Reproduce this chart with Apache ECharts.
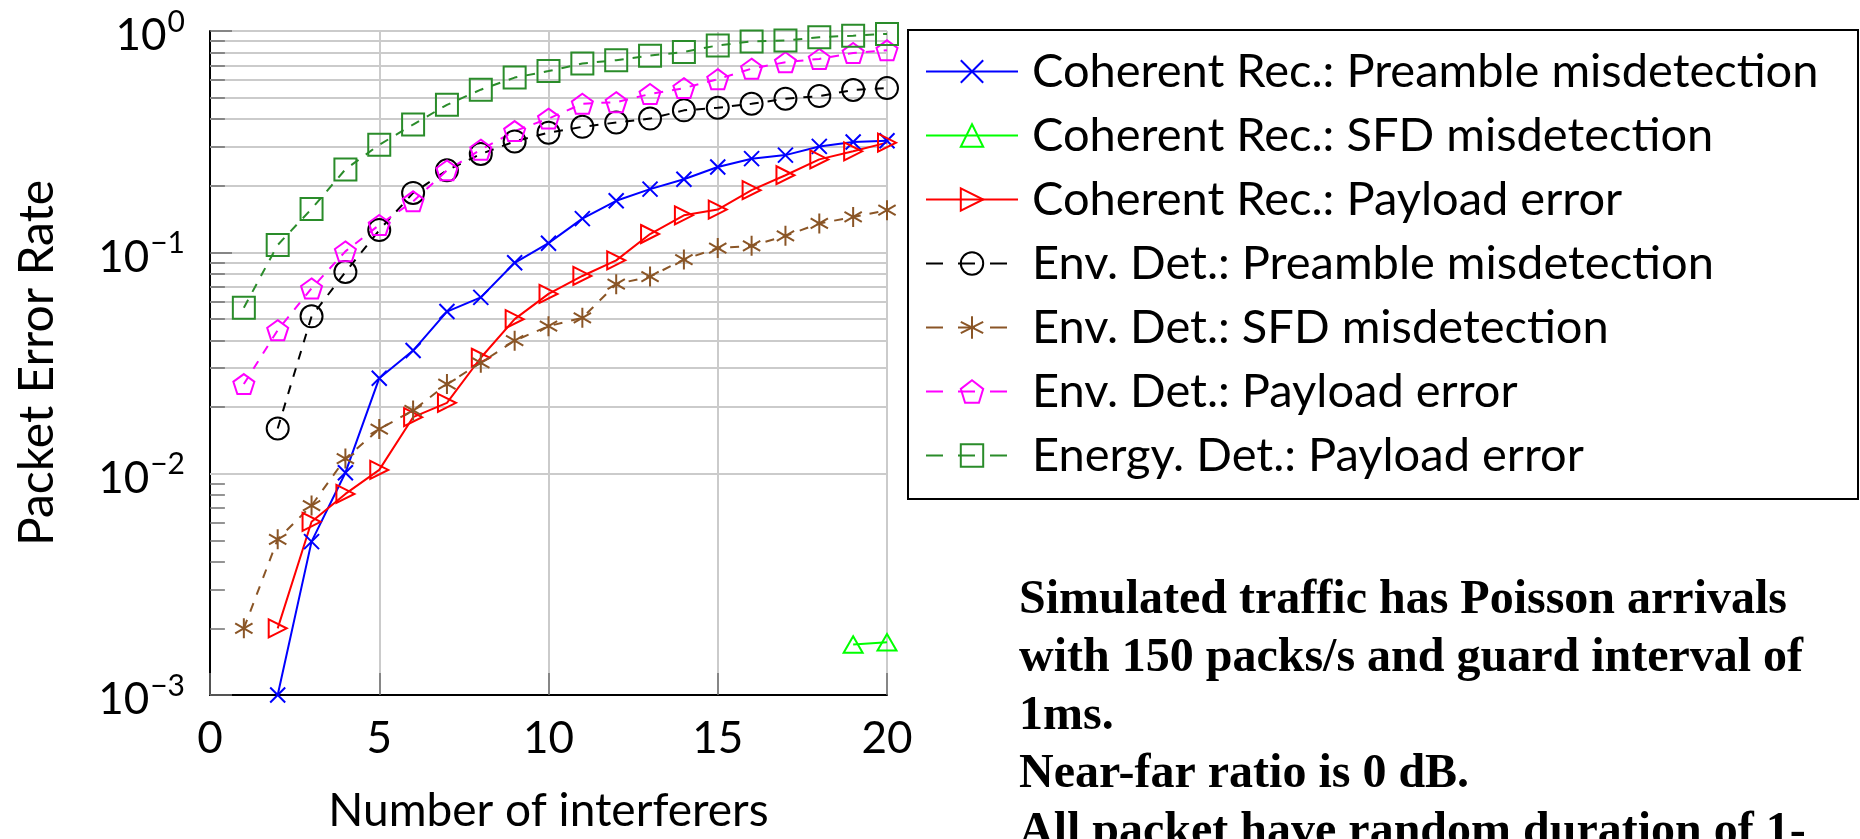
<!DOCTYPE html>
<html><head><meta charset="utf-8">
<script src="https://cdn.jsdelivr.net/npm/echarts@6/dist/echarts.min.js"></script>
<style>html,body{margin:0;padding:0;background:#fff}#c{width:1860px;height:839px}</style>
</head><body><div id="c"></div>
<script>
// ---------- data ----------
const seriesNames = [
  'Coherent Rec.: Preamble misdetection',
  'Coherent Rec.: SFD misdetection',
  'Coherent Rec.: Payload error',
  'Env. Det.: Preamble misdetection',
  'Env. Det.: SFD misdetection',
  'Env. Det.: Payload error',
  'Energy. Det.: Payload error'
];
const x1to20 = [1,2,3,4,5,6,7,8,9,10,11,12,13,14,15,16,17,18,19,20];
const x2to20 = [2,3,4,5,6,7,8,9,10,11,12,13,14,15,16,17,18,19,20];
const xSfd = [19,20];

const cohPreamble = [0.001,0.00493,0.0101,0.027,0.036,0.054,0.0626,0.0897,0.110,0.142,0.171,0.193,0.214,0.243,0.265,0.275,0.301,0.315,0.319];
const cohSfd = [0.00169,0.00173];
const cohPayload = [0.0020,0.00606,0.0081,0.0104,0.018,0.0209,0.0334,0.0499,0.0649,0.0782,0.092,0.121,0.147,0.156,0.191,0.223,0.263,0.286,0.313];
const envPreamble = [0.016,0.0514,0.0815,0.126,0.1855,0.2346,0.278,0.317,0.347,0.369,0.386,0.402,0.438,0.450,0.469,0.494,0.508,0.541,0.552];
const envSfd = [0.002,0.00505,0.00718,0.0117,0.0159,0.0193,0.0254,0.0317,0.0399,0.0464,0.0506,0.0718,0.0777,0.0928,0.1045,0.107,0.1187,0.135,0.1445,0.155];
const envPayload = [0.0254,0.0445,0.0687,0.101,0.133,0.170,0.2346,0.291,0.353,0.402,0.469,0.477,0.519,0.552,0.606,0.676,0.723,0.748,0.796,0.818];
const energyPayload = [0.0562,0.108,0.157,0.237,0.306,0.378,0.464,0.543,0.616,0.659,0.713,0.738,0.774,0.804,0.861,0.897,0.906,0.937,0.953,0.970];

const minorMantissas = [2,3,4,5,6,7,8,9];
const decades = [0.001,0.01,0.1];
const xAxisTitle = 'Number of interferers';
const yAxisTitle = 'Packet Error Rate';
const noteLines = [
  'Simulated traffic has Poisson arrivals',
  'with 150 packs/s and guard interval of',
  '1ms.',
  'Near-far ratio is 0 dB.',
  'All packet have random duration of 1-'
];

// ---------- build ----------
const pairs = (xs, ys) => ys.map((v, i) => [xs[i], v]);
const FONT = 'Lato';
const symCross = 'path://M0,0L10,10M10,0L0,10';
const symTriRight = 'path://M0,0L10,5L0,10Z';
const symTriUp = 'path://M5,0L10,8.66L0,8.66Z';
const symStar = 'path://M5,0L5,10M0.67,2.5L9.33,7.5M0.67,7.5L9.33,2.5';
const symPent = 'path://M5,0L9.755,3.455L7.939,9.045L2.061,9.045L0.245,3.455Z';
const dashedFlags = [false, false, false, true, true, true, true];

function mk(name, data, color, symbol, size, dashed) {
  return {
    name: name, type: 'line', data: data,
    symbol: symbol, symbolSize: size, symbolKeepAspect: true,
    showAllSymbol: true, z: 5,
    lineStyle: { color: color, width: 2, type: dashed ? [9, 9] : 'solid' },
    itemStyle: { color: 'rgba(0,0,0,0)', borderColor: color, borderWidth: 2 },
    emphasis: { disabled: true }
  };
}

const minorVals = [];
decades.forEach(d => minorMantissas.forEach(m => minorVals.push(+(d * m).toPrecision(3))));

const guideSeries = {
  name: '_guides', type: 'line', data: [], z: 1, silent: true,
  markLine: {
    silent: true, symbol: 'none', animation: false, label: { show: false },
    data: minorVals.map(v => ({ yAxis: v, lineStyle: { color: '#cbcbcb', width: 2, type: 'solid' } }))
      .concat(minorVals.map(v => [
        { coord: [0, v], lineStyle: { color: '#707070', width: 1.5, type: 'solid' } },
        { coord: [0.44, v] }
      ]))
  }
};

const chart = echarts.init(document.getElementById('c'), null, { renderer: 'canvas' });
chart.setOption({
  animation: false,
  backgroundColor: '#fff',
  grid: { left: 210, top: 31, width: 677, height: 675, containLabel: false },
  xAxis: {
    type: 'value', min: 0, max: 20, interval: 5,
    name: xAxisTitle, nameLocation: 'middle', nameGap: 93,
    nameTextStyle: { fontSize: 46, fontFamily: FONT, color: '#000', lineHeight: 46 },
    axisLine: { lineStyle: { color: '#000', width: 2 } },
    axisTick: { inside: true, length: 22, lineStyle: { color: '#707070', width: 1.5 } },
    axisLabel: { fontSize: 44, fontFamily: FONT, color: '#000', margin: 22, lineHeight: 44 },
    splitLine: { show: true, lineStyle: { color: '#cbcbcb', width: 2 } }
  },
  yAxis: {
    type: 'log', logBase: 10, min: 0.001, max: 1,
    name: yAxisTitle, nameLocation: 'middle', nameGap: 148, nameRotate: 90,
    nameTextStyle: { fontSize: 48, fontFamily: FONT, color: '#000', lineHeight: 48 },
    axisLine: { lineStyle: { color: '#000', width: 2 } },
    axisTick: { inside: true, length: 22, lineStyle: { color: '#707070', width: 1.5 } },
    axisLabel: {
      margin: 25, padding: [10, 0, 0, 0],
      formatter: function (v) {
        const e = Math.round(Math.log10(v));
        const s = e < 0 ? '\u2212' + (-e) : String(e);
        return '{b|10}{s|' + s + '}';
      },
      rich: {
        b: { fontSize: 44, fontFamily: FONT, color: '#000' },
        s: { fontSize: 30, fontFamily: FONT, color: '#000', padding: [0, 0, 28, 1] }
      }
    },
    splitLine: { show: true, lineStyle: { color: '#cbcbcb', width: 2 } }
  },
  legend: {
    orient: 'vertical', left: 925, top: 48, padding: 0,
    itemWidth: 92, itemHeight: 28, itemGap: 17,
    data: seriesNames.map((n, i) => dashedFlags[i]
      ? { name: n, lineStyle: { type: [17, 15] } }
      : { name: n }),
    textStyle: { fontSize: 47, fontFamily: FONT, color: '#000', lineHeight: 44, padding: [0, 0, 0, 9] },
    selectedMode: false
  },
  graphic: [
    { type: 'rect', shape: { x: 908, y: 30, width: 950, height: 469 }, style: { fill: 'none', stroke: '#000', lineWidth: 2 }, z: 10 },
    { type: 'text', left: 1019, top: 572, z: 10,
      style: { text: noteLines.join('\n'), font: 'bold 48px "Liberation Serif"', fill: '#000', lineHeight: 58 } }
  ],
  series: [
    guideSeries,
    mk(seriesNames[0], pairs(x2to20, cohPreamble), '#0000ff', symCross, 15, dashedFlags[0]),
    mk(seriesNames[1], pairs(xSfd, cohSfd), '#00ff00', symTriUp, 19, dashedFlags[1]),
    mk(seriesNames[2], pairs(x2to20, cohPayload), '#ff0000', symTriRight, 18, dashedFlags[2]),
    mk(seriesNames[3], pairs(x2to20, envPreamble), '#000000', 'circle', 22, dashedFlags[3]),
    mk(seriesNames[4], pairs(x1to20, envSfd), '#8a5526', symStar, 20, dashedFlags[4]),
    mk(seriesNames[5], pairs(x1to20, envPayload), '#ff00ff', symPent, 21, dashedFlags[5]),
    mk(seriesNames[6], pairs(x1to20, energyPayload), '#2a8c2a', 'rect', 22, dashedFlags[6])
  ]
});
</script></body></html>
